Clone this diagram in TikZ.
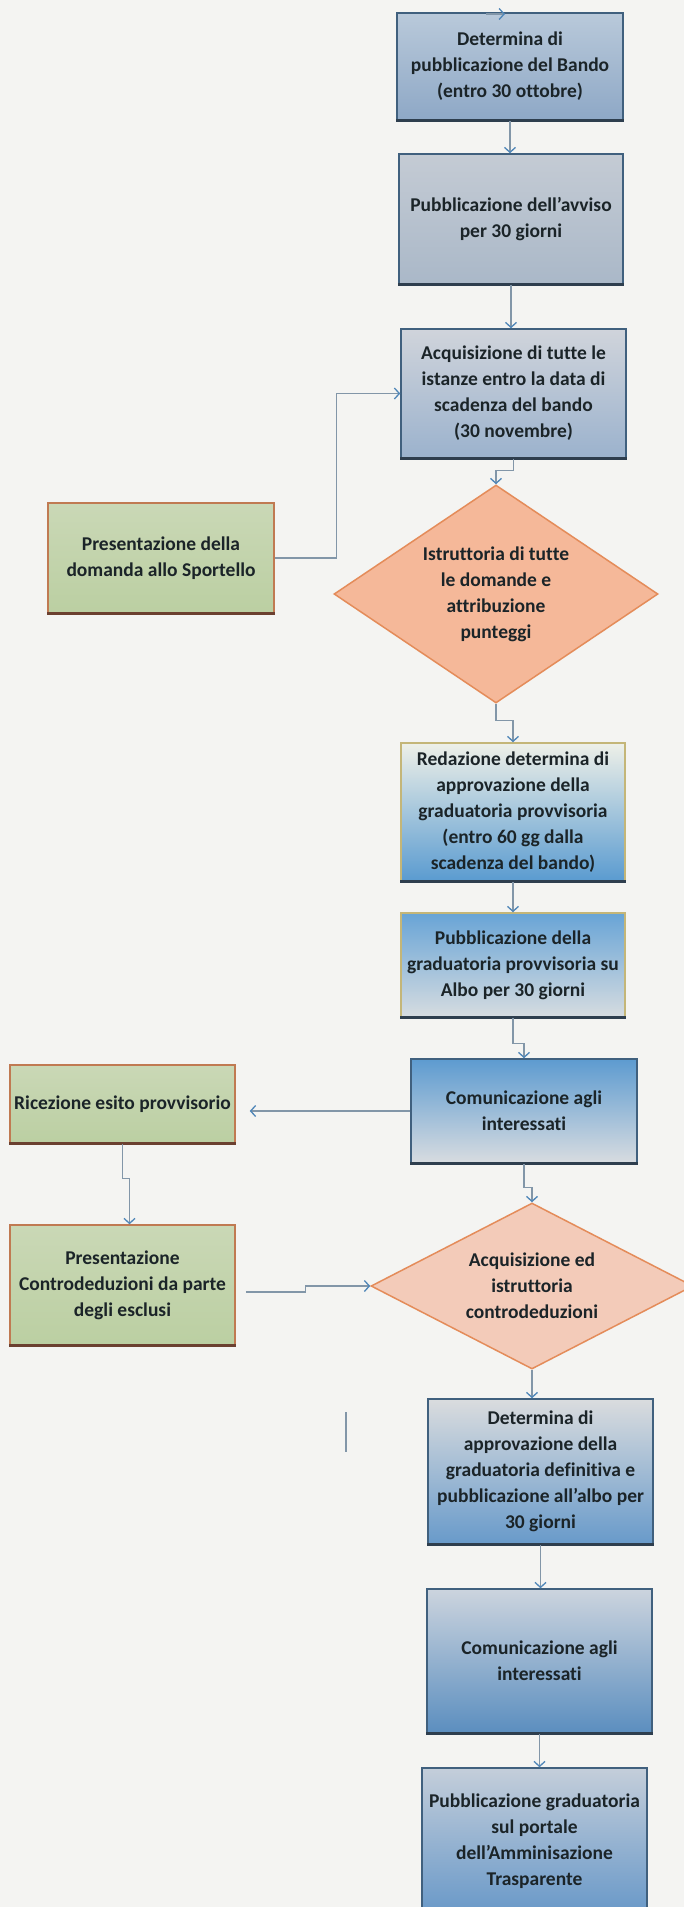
\documentclass[tikz,border=0pt]{standalone}
\usepackage{fontspec}
\setmainfont{Carlito}[Ligatures=NoCommon]
\usetikzlibrary{shapes.geometric,arrows.meta,calc}
\definecolor{bg}{HTML}{F4F4F2}
\definecolor{txt}{HTML}{1B2428}
\definecolor{bord}{HTML}{40607E}
\definecolor{bordD}{HTML}{2E3E4E}
\definecolor{bordY}{HTML}{C4B678}
\definecolor{gbord}{HTML}{C07A52}
\definecolor{gbordD}{HTML}{6B4030}
\definecolor{lineC}{HTML}{8296A8}
\definecolor{arrC}{HTML}{4F86B8}
\definecolor{dbord}{HTML}{E48C5A}
\definecolor{dOne}{HTML}{F5B899}
\definecolor{dTwo}{HTML}{F3CBB9}
\definecolor{gTop}{HTML}{CAD8B6}
\definecolor{gBot}{HTML}{BBCFA2}
\tikzset{
  every node/.style={font=\bfseries\fontsize{19.5}{26}\selectfont, text=txt, align=center, inner sep=0pt},
  bluebox/.style={rectangle, draw=bord, line width=1.5pt,
    append after command={(\tikzlastnode.south west) edge[draw=bordD, line width=3pt] (\tikzlastnode.south east)}},
  greenbox/.style={rectangle, draw=gbord, line width=1.5pt, top color=gTop, bottom color=gBot,
    append after command={(\tikzlastnode.south west) edge[draw=gbordD, line width=3pt] (\tikzlastnode.south east)}},
  decision/.style={diamond, draw=dbord, line width=1.5pt},
  conn/.style={draw=lineC, line width=1.4pt, -{Straight Barb[length=5pt,width=11pt,line width=1.3pt,color=arrC]}},
  straymark/.style={draw=lineC, line width=1.2pt}
}
\begin{document}
\begin{tikzpicture}[x=1pt,y=-1pt]
\fill[bg] (0,0) rectangle (684,1907);
\useasboundingbox (0,0) rectangle (684,1907);

\node[bluebox, top color={rgb,255:red,185;green,201;blue,218}, bottom color={rgb,255:red,142;green,168;blue,198}, minimum width=226pt, minimum height=107pt] (box1) at (510,66.5) {Determina di\\pubblicazione del Bando\\(entro 30 ottobre)};

\node[bluebox, top color={rgb,255:red,196;green,203;blue,212}, bottom color={rgb,255:red,170;green,184;blue,200}, minimum width=224pt, minimum height=130pt] (box2) at (511,219) {Pubblicazione dell'avviso\\per 30 giorni};

\node[bluebox, top color={rgb,255:red,208;green,212;blue,219}, bottom color={rgb,255:red,155;green,178;blue,205}, minimum width=225pt, minimum height=129pt] (box3) at (513.5,393.5) {Acquisizione di tutte le\\istanze entro la data di\\scadenza del bando\\(30 novembre)};

\node[greenbox, minimum width=226pt, minimum height=110pt] (green1) at (161,558) {Presentazione della\\domanda allo Sportello};

\node[decision, fill=dOne, aspect=1.5, minimum width=324pt, minimum height=218pt] (d1) at (496,594) {Istruttoria di tutte\\le domande e\\attribuzione\\punteggi};

\node[bluebox, draw=bordY, middle color={rgb,255:red,170;green,202;blue,226}, top color={rgb,255:red,238;green,240;blue,232}, bottom color={rgb,255:red,90;green,155;blue,208}, minimum width=224pt, minimum height=138pt] (box4) at (513,812) {Redazione determina di\\approvazione della\\graduatoria provvisoria\\(entro 60 gg dalla\\scadenza del bando)};

\node[bluebox, draw=bordY, top color={rgb,255:red,104;green,164;blue,214}, bottom color={rgb,255:red,214;green,220;blue,224}, minimum width=224pt, minimum height=104pt] (box5) at (513,965) {Pubblicazione della\\graduatoria provvisoria su\\Albo per 30 giorni};

\node[bluebox, top color={rgb,255:red,93;green,155;blue,208}, bottom color={rgb,255:red,216;green,220;blue,224}, minimum width=226pt, minimum height=104pt] (box6) at (524,1111) {Comunicazione agli\\interessati};

\node[greenbox, minimum width=225pt, minimum height=78pt] (green2) at (122.5,1104) {Ricezione esito provvisorio};

\node[greenbox, minimum width=225pt, minimum height=120pt] (green3) at (122.5,1285) {Presentazione\\Controdeduzioni da parte\\degli esclusi};

\node[decision, fill=dTwo, aspect=2, minimum width=322pt, minimum height=166pt] (d2) at (532,1286) {Acquisizione ed\\istruttoria\\controdeduzioni};

\node[bluebox, top color={rgb,255:red,218;green,220;blue,222}, bottom color={rgb,255:red,104;green,154;blue,202}, minimum width=225pt, minimum height=145pt] (box7) at (540.5,1471.5) {Determina di\\approvazione della\\graduatoria definitiva e\\pubblicazione all'albo per\\30 giorni};

\node[bluebox, top color={rgb,255:red,204;green,212;blue,222}, bottom color={rgb,255:red,91;green,142;blue,191}, minimum width=225pt, minimum height=144pt] (box8) at (539.5,1661) {Comunicazione agli\\interessati};

\node[bluebox, top color={rgb,255:red,196;green,206;blue,218}, bottom color={rgb,255:red,104;green,152;blue,200}, minimum width=225pt, minimum height=147pt] (box9) at (534.5,1841.5) {Pubblicazione graduatoria\\sul portale\\dell'Amminisazione\\Trasparente};

% connectors
\coordinate (topA) at (486,14);
\coordinate (topB) at (505,14);
\draw[conn] (topA) -- (topB);
\draw[conn] (box1.south) -- (box1.south |- box2.north);
\draw[conn] (box2.south) -- (box2.south |- box3.north);
\draw[conn] (green1.east) -- ++(62,0) |- (box3.west);
\draw[conn] (box3.south) -- ++(0,12) -| (d1.north);
\draw[conn] (d1.south) -- ++(0,17) -| (box4.north);
\draw[conn] (box4.south) -- (box4.south |- box5.north);
\draw[conn] (box5.south) -- ++(0,26) -| (box6.north);
\draw[conn, shorten >=14pt] (box6.west) -- (box6.west -| green2.east);
\draw[conn] (green2.south) -- ++(0,35) -| ($(green3.north)+(7,0)$);
\draw[conn] ($(green3.east)+(10,7)$) -- ++(60,0) |- (d2.west);
\draw[conn] (box6.south) -- ++(0,24) -| (d2.north);
\draw[conn] (d2.south) -- (d2.south |- box7.north);
\draw[conn] (box7.south) -- (box7.south |- box8.north);
\draw[conn] (box8.south) -- (box8.south |- box9.north);

\draw[straymark] (346,1412) -- (346,1452);
\end{tikzpicture}
\end{document}
